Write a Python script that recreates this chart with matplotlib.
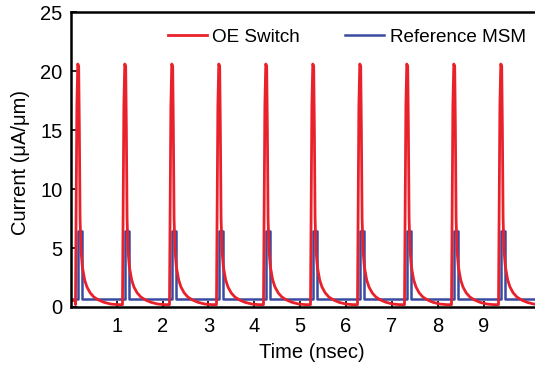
import matplotlib
matplotlib.use("Agg")
import matplotlib.pyplot as plt
import numpy as np

plt.rcParams['font.family'] = ['Liberation Sans', 'DejaVu Sans']

# pulse onset times (nsec)
pulse_starts = [0.10, 1.125, 2.15, 3.175, 4.20, 5.225, 6.25, 7.275, 8.30, 9.325]

# OE switch pulse shape (offset from onset, current uA/um)
oe_dt = [0.0, 0.01, 0.03, 0.05, 0.07, 0.085, 0.10, 0.12, 0.15, 0.20, 0.25, 0.32, 0.40, 0.50, 0.62, 0.77, 0.92]
oe_val = [0.2, 6.0, 17.0, 20.6, 20.4, 15.0, 7.5, 4.8, 3.4, 2.3, 1.7, 1.2, 0.85, 0.6, 0.4, 0.25, 0.2]
oe_initial = 0.55

# Reference MSM pulse (square)
msm_base = 0.7
msm_peak = 6.45
msm_on = 0.05
msm_off = 0.135

x_end = 10.5
xticks = [1, 2, 3, 4, 5, 6, 7, 8, 9]
yticks = [0, 5, 10, 15, 20, 25]

# build traces
oe_t = [0.0]
oe_y = [oe_initial]
for t0 in pulse_starts:
    oe_t.append(t0)
    oe_y.append(oe_y[-1] if len(oe_y) > 1 else oe_initial)
    for d, v in zip(oe_dt, oe_val):
        oe_t.append(t0 + d)
        oe_y.append(v)
oe_t.append(x_end)
oe_y.append(oe_val[-1])

msm_t = [0.0]
msm_y = [msm_base]
for t0 in pulse_starts:
    msm_t += [t0 + msm_on, t0 + msm_on, t0 + msm_off, t0 + msm_off]
    msm_y += [msm_base, msm_peak, msm_peak, msm_base]
msm_t.append(x_end)
msm_y.append(msm_base)

fig = plt.figure(figsize=(5.35, 3.67), dpi=100)
ax = fig.add_axes([0.1325, 0.1635, 0.90, 0.8035])

red = '#e8212b'
blue = '#3a4aa0'
l2, = ax.plot(msm_t, msm_y, color=blue, lw=1.8, label='Reference MSM')
l1, = ax.plot(oe_t, oe_y, color=red, lw=2.0, label='OE Switch')

ax.set_xlim(0, x_end)
ax.set_ylim(0, 25)
ax.set_xticks(xticks)
ax.set_yticks(yticks)
ax.tick_params(direction='in', labelsize=14.5, length=4, width=1.2)
ax.tick_params(axis='x', pad=7)
ax.tick_params(axis='y', pad=6)
for s in ax.spines.values():
    s.set_linewidth(1.8)
ax.set_xlabel('Time (nsec)', fontsize=14.5, labelpad=5)
ax.set_ylabel('Current (\u03bcA/\u03bcm)', fontsize=14.5)
ax.yaxis.set_label_coords(-0.085, 0.49)

leg = fig.legend(handles=[l1, l2], ncol=2, frameon=False, fontsize=13.6,
                 loc='center left', bbox_to_anchor=(168 / 535, 1 - 37 / 367),
                 borderpad=0, borderaxespad=0,
                 handlelength=2.05, columnspacing=2.4, handletextpad=0.3)

fig.savefig('out.png', dpi=100)
